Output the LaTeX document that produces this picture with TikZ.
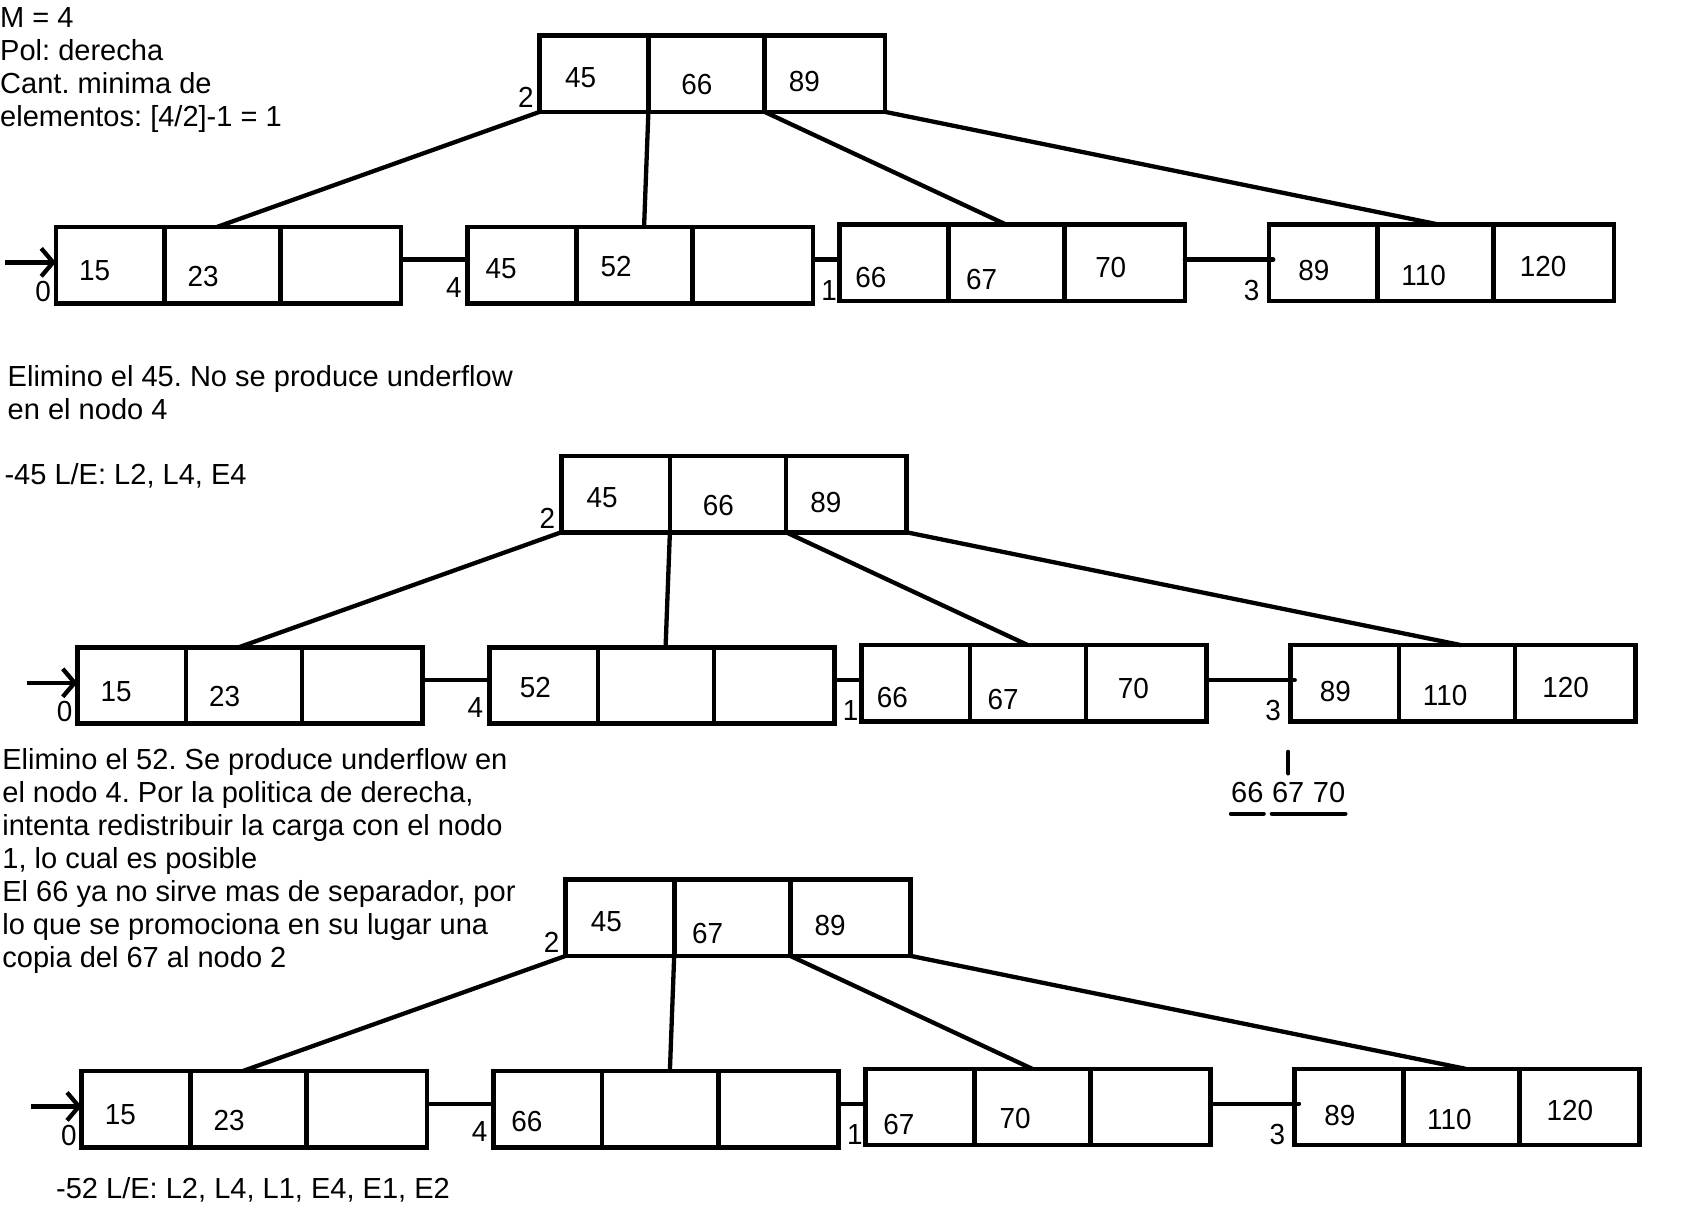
\documentclass[tikz,border=0pt]{standalone}
\usepackage{fontspec}
\setmainfont{Liberation Sans}
\newfontfamily\keyfamily[FakeStretch=0.96]{Liberation Sans}
\usetikzlibrary{arrows.meta}

\newcommand\txtfont{\frenchspacing\fontsize{27}{30.7}\selectfont}
\newcommand\keyfont{\keyfamily\fontsize{27}{30}\selectfont}

\tikzset{
  cell/.style={draw, line width=4.3pt, minimum height=71pt, inner sep=0pt,
               outer sep=0pt, anchor=north west},
  link/.style={line width=4.2pt},
  edge/.style={line width=4pt},
  key/.style={inner sep=0pt, font=\keyfont},
  lbl/.style={inner sep=0pt, font=\keyfont},
  txt/.style={inner sep=0pt, anchor=base west, font=\txtfont},
  entry/.style={line width=4pt,
                -{Straight Barb[length=11pt,width=26pt,line width=4pt]}},
  mark line/.style={line width=4pt, line cap=round},
}

% one B+ tree node: three cells, #1 = name, #2/#3 = top-left corner
\newcommand\cells[3]{%
  \node[cell, minimum width=101pt] (#1a) at (#2,#3) {};
  \node[cell, minimum width=108pt] (#1b) at (#1a.north east) {};
  \node[cell, minimum width=112pt] (#1c) at (#1b.north east) {};}

% the whole tree (root + four leaves, links, node numbers), #1 = prefix
\newcommand\bptree[3]{%
  \begin{scope}[shift={(#2,#3)}]
    \cells{#1-r}{502}{33}
    \cells{#1-n0}{52}{211}
    \cells{#1-n4}{435}{211}
    \cells{#1-n1}{781}{209}
    \cells{#1-n3}{1180}{209}
    % parent -> child pointers
    \draw[edge] (#1-ra.south west) -- ([xshift=-5pt]#1-n0b.north);
    \draw[edge] (#1-ra.south east) -- ([xshift=9pt]#1-n4b.north);
    \draw[edge] (#1-rb.south east) -- (#1-n1b.north);
    \draw[edge] (#1-rc.south east) -- ([xshift=4pt]#1-n3b.north);
    % sequence set links
    \draw[link] ([yshift=5pt]#1-n0c.east) -- ([yshift=5pt]#1-n0c.east -| #1-n4a.west);
    \draw[link] ([yshift=5pt]#1-n4c.east) -- ([yshift=5pt]#1-n4c.east -| #1-n1a.west);
    \draw[link, line cap=round, shorten >=-4pt]
      ([yshift=3pt]#1-n1c.east) -- ([yshift=3pt]#1-n1c.east -| #1-n3a.west);
    % entry pointer
    \coordinate (#1-in) at (5,244);
    \draw[entry] (#1-in) -- (#1-in -| #1-n0a.west);
    % node numbers
    \node[lbl] (#1-k2) at (489,91) {2};
    \node[lbl] (#1-k0) at (40,271) {0};
    \node[lbl] (#1-k4) at (422,267) {4};
    \node[lbl] (#1-k1) at (771,270) {1};
    \node[lbl] (#1-k3) at (1164,270) {3};
  \end{scope}}

\begin{document}
\begin{tikzpicture}[x=1pt, y=-1pt]
\useasboundingbox (0,0) rectangle (1568,1135);

% ---------------- header ----------------
\node[txt] (h1) at (0,25.7)  {M = 4};
\node[txt] (h2) at (0,56.4)  {Pol: derecha};
\node[txt] (h3) at (0,87.1)  {Cant. minima de};
\node[txt] (h4) at (0,117.8) {elementos: [4/2]-1 = 1};

% ---------------- initial tree ----------------
\bptree{A}{0}{0}
\node[key] (A-ra-v) at (540,72)  {45};
\node[key] (A-rb-v) at (648,79)  {66};
\node[key] (A-rc-v) at (748,76)  {89};
\node[key] (A-n0a-v) at (88,252)  {15};
\node[key] (A-n0b-v) at (189,257) {23};
\node[key] (A-n4a-v) at (466,250) {45};
\node[key] (A-n4b-v) at (573,248) {52};
\node[key] (A-n1a-v) at (810,258) {66};
\node[key] (A-n1b-v) at (913,260) {67};
\node[key] (A-n1c-v) at (1033,249) {70};
\node[key] (A-n3a-v) at (1222,252) {89};
\node[key] (A-n3b-v) at (1324,256) {110};
\node[key] (A-n3c-v) at (1435,248) {120};

% ---------------- delete 45 ----------------
\node[txt] (d1) at (7,359.5) {Elimino el 45. No se produce underflow};
\node[txt] (d2) at (7,390.2) {en el nodo 4};
\node[txt] (d3) at (4,450.5) {-45 L/E: L2, L4, E4};

\bptree{B}{20}{391}
\node[key] (B-ra-v) at (560,463)  {45};
\node[key] (B-rb-v) at (668,470)  {66};
\node[key] (B-rc-v) at (768,467)  {89};
\node[key] (B-n0a-v) at (108,643)  {15};
\node[key] (B-n0b-v) at (209,648) {23};
\node[key] (B-n4a-v) at (498,639) {52};
\node[key] (B-n1a-v) at (830,649) {66};
\node[key] (B-n1b-v) at (933,651) {67};
\node[key] (B-n1c-v) at (1054,640) {70};
\node[key] (B-n3a-v) at (1242,643) {89};
\node[key] (B-n3b-v) at (1344,647) {110};
\node[key] (B-n3c-v) at (1456,639) {120};

% redistribution sketch under node 1
\node[inner sep=0pt, font=\txtfont] (s66) at (1160,737) {66};
\node[inner sep=0pt, font=\txtfont] (s67) at (1198,737) {67};
\node[inner sep=0pt, font=\txtfont] (s70) at (1236,737) {70};
\draw[mark line] ([yshift=8pt]s67.north) -- ([yshift=28pt]s67.north);
\draw[mark line] ([yshift=-10pt]s66.south west) -- ([yshift=-10pt]s66.south east);
\draw[mark line] ([yshift=-10pt]s67.south west) -- ([yshift=-10pt]s70.south east);

% ---------------- delete 52 ----------------
\node[txt] (e1) at (2,715.5) {Elimino el 52. Se produce underflow en};
\node[txt] (e2) at (2,746.2) {el nodo 4. Por la politica de derecha,};
\node[txt] (e3) at (2,776.9) {intenta redistribuir la carga con el nodo};
\node[txt] (e4) at (2,807.6) {1, lo cual es posible};
\node[txt] (e5) at (2,838.3) {El 66 ya no sirve mas de separador, por};
\node[txt] (e6) at (2,869.0) {lo que se promociona en su lugar una};
\node[txt] (e7) at (2,899.7) {copia del 67 al nodo 2};

\bptree{C}{24}{785}
\node[key] (C-ra-v) at (564,857)  {45};
\node[key] (C-rb-v) at (658,868)  {67};
\node[key] (C-rc-v) at (772,861)  {89};
\node[key] (C-n0a-v) at (112,1037)  {15};
\node[key] (C-n0b-v) at (213,1042) {23};
\node[key] (C-n4a-v) at (490,1043) {66};
\node[key] (C-n1a-v) at (836,1046) {67};
\node[key] (C-n1b-v) at (944,1040) {70};
\node[key] (C-n3a-v) at (1246,1037) {89};
\node[key] (C-n3b-v) at (1348,1041) {110};
\node[key] (C-n3c-v) at (1460,1033) {120};

\node[txt] (f1) at (52,1114.5) {-52 L/E: L2, L4, L1, E4, E1, E2};
\end{tikzpicture}
\end{document}
